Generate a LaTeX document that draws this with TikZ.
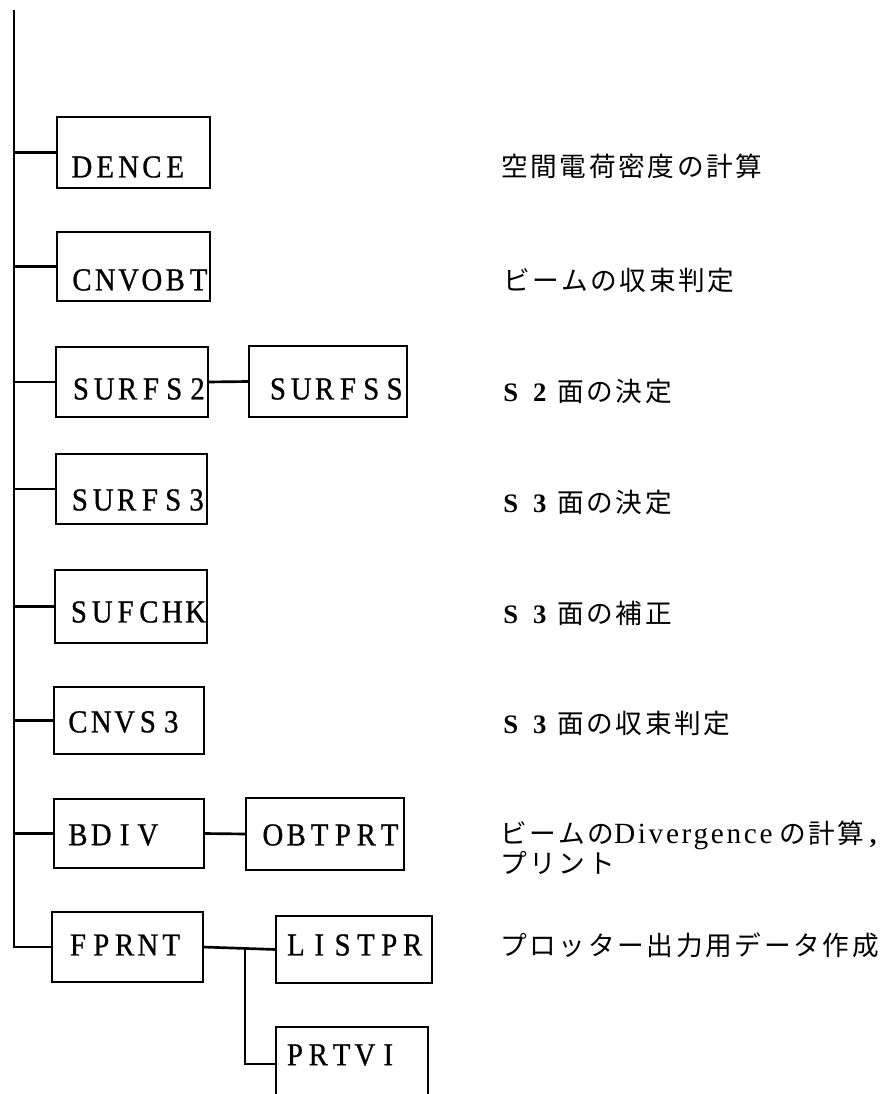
\documentclass[tikz,border=0pt]{standalone}
\usepackage{fontspec}
\setmainfont{Liberation Serif}
\newfontfamily\boxfont[FakeStretch=0.9,FakeBold=0.8]{Liberation Serif}
\newfontfamily\jpfont[LetterSpace=10]{Noto Sans CJK JP}
\newfontfamily\latfont[LetterSpace=9]{Liberation Serif}
\newfontfamily\latbold{Liberation Serif Bold}
\newdimen\pxu \pxu=0.75pt
\makeatletter
\newcommand\pitched[1]{\@tfor\pch:=#1\do{\makebox[17.5pt][c]{\pch}}}
\makeatother
\newcommand\sn[1]{{\latbold\makebox[22.5pt][l]{S}\makebox[18pt][l]{#1}}}
\newcommand\dr[1]{{\latfont\fontsize{22}{18.75}\selectfont #1}}
\tikzset{
  box/.style={draw, line width=2pt, inner sep=0pt, outer sep=0pt},
  conn/.style={draw, line width=2pt},
  lbl/.style={anchor=west, inner sep=0pt, font=\boxfont\fontsize{24}{26}\selectfont},
  desc/.style={anchor=west, inner sep=0pt, align=left, font=\jpfont\fontsize{20}{18.75}\selectfont},
}
\begin{document}
\begin{tikzpicture}[x=0.75pt,y=-0.75pt]
\clip (0,0) rectangle (895,1094);
% boxes
\node[box, minimum width=153*\pxu, minimum height=71*\pxu] (dence)  at (133.5,152.5) {};
\node[box, minimum width=153*\pxu, minimum height=69*\pxu] (cnvobt) at (133.5,266.5) {};
\node[box, minimum width=152*\pxu, minimum height=70*\pxu] (surfs2) at (132,382) {};
\node[box, minimum width=158*\pxu, minimum height=71*\pxu] (surfss) at (328,381.5) {};
\node[box, minimum width=151*\pxu, minimum height=70*\pxu] (surfs3) at (131.5,489) {};
\node[box, minimum width=152*\pxu, minimum height=73*\pxu] (sufchk) at (131,606.5) {};
\node[box, minimum width=150*\pxu, minimum height=67*\pxu] (cnvs3)  at (129,720.5) {};
\node[box, minimum width=150*\pxu, minimum height=69*\pxu] (bdiv)   at (129,833.5) {};
\node[box, minimum width=158*\pxu, minimum height=72*\pxu] (obtprt) at (325,834) {};
\node[box, minimum width=151*\pxu, minimum height=70*\pxu] (fprnt)  at (127.5,947) {};
\node[box, minimum width=156*\pxu, minimum height=67*\pxu] (listpr) at (354,949.5) {};
\node[box, minimum width=152*\pxu, minimum height=74*\pxu] (prtvi)  at (352,1064) {};
% box labels
\node[lbl] (tdence)  at (70,167) {\pitched{DENCE}};
\node[lbl] (tcnvobt) at (70,280) {\pitched{CNVOBT}};
\node[lbl] (tsurfs2) at (69,389) {\pitched{SURFS2}};
\node[lbl] (tsurfss) at (266,389) {\pitched{SURFSS}};
\node[lbl] (tsurfs3) at (68,500) {\pitched{SURFS3}};
\node[lbl] (tsufchk) at (67,612) {\pitched{SUFCHK}};
\node[lbl] (tcnvs3)  at (66,722) {\pitched{CNVS3}};
\node[lbl] (tbdiv)   at (66,835) {\pitched{BDIV}};
\node[lbl] (tobtprt) at (261,835) {\pitched{OBTPRT}};
\node[lbl] (tfprnt)  at (66,945) {\pitched{FPRNT}};
\node[lbl] (tlistpr) at (284,945) {\pitched{LISTPR}};
\node[lbl] (tprtvi)  at (283,1055) {\pitched{PRTVI}};
% connectors
\coordinate (top) at (14,10);
\draw[conn] (top) |- (fprnt.west);
\foreach \b in {dence,cnvobt,surfs2,surfs3,sufchk,cnvs3,bdiv}{
  \draw[conn] (\b.west) -- (\b.west -| top);
}
\draw[conn] (surfs2.east) -- (surfss.west);
\draw[conn] (bdiv.east) -- (obtprt.west);
\draw[conn] (fprnt.east) -- (listpr.west);
\coordinate (j) at (245,947);
\draw[conn] (j) |- (prtvi.west);
% descriptions
\node[desc] (ddence)  at (501,166) {空間電荷密度の計算};
\node[desc] (dcnvobt) at (503,280) {ビームの収束判定};
\node[desc] (dsurfs2) at (503,391) {\sn{2}面の決定};
\node[desc] (dsurfs3) at (503,502) {\sn{3}面の決定};
\node[desc] (dsufchk) at (503,613) {\sn{3}面の補正};
\node[desc] (dcnvs3)  at (503,723) {\sn{3}面の収束判定};
\node[desc] (dbdiv)   at (500,847.5) {ビームの\dr{Divergence}\hspace{5pt}の計算\hspace{4pt}{\latbold ,}\\プリント};
\node[desc] (dfprnt)  at (500,945) {プロッター出力用データ作成};
\end{tikzpicture}
\end{document}
